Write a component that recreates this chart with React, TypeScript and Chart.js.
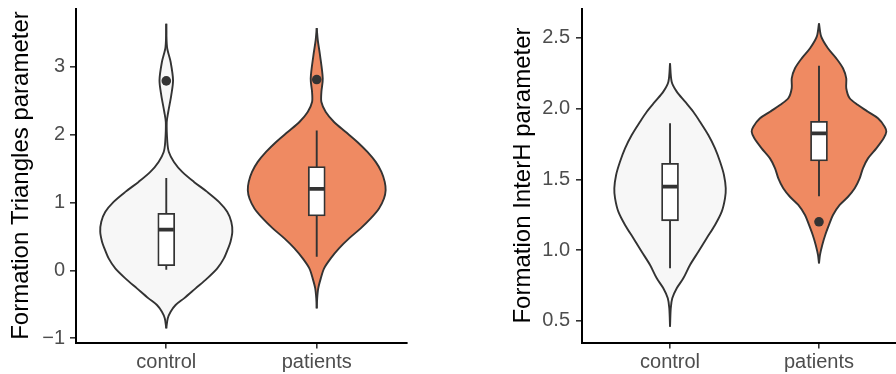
import React, { useEffect, useRef } from 'react';
import { Chart, registerables } from 'chart.js';

Chart.register(...registerables);

const FONT = "'Liberation Sans', Arial, Helvetica, sans-serif";

const categories = ['control', 'patients'];
const categoryPositions = [1, 2];
const fillColors = ['#F7F7F7', '#EF8A62'];

// ---------- Panel 1: Formation Triangles parameter ----------
const triTitle = 'Formation Triangles parameter';
const triYTicks = [-1, 0, 1, 2, 3];
const triYTickLabels = ['\u22121', '0', '1', '2', '3'];
const triYRange = [-1.062, 3.856];
const triXRange = [0.4, 2.6];

const triControlLevels = [-0.853, -0.706, -0.609, -0.51, -0.412, -0.265, -0.118, 0.029, 0.176, 0.328, 0.421, 0.568, 0.715, 0.862, 1.009, 1.156, 1.303, 1.45, 1.597, 1.744, 1.891, 2.181, 2.332, 2.578, 2.799, 3.068, 3.288, 3.632];
const triControlHalfWidths = [0, 0.01, 0.029, 0.062, 0.118, 0.195, 0.272, 0.339, 0.383, 0.412, 0.427, 0.439, 0.432, 0.405, 0.35, 0.272, 0.184, 0.106, 0.051, 0.017, 0.007, 0.003, 0.013, 0.033, 0.045, 0.029, 0.005, 0];

const triPatientsLevels = [-0.559, -0.412, -0.265, -0.118, 0.029, 0.176, 0.324, 0.471, 0.618, 0.765, 0.912, 1.059, 1.181, 1.303, 1.45, 1.597, 1.744, 1.891, 2.038, 2.185, 2.332, 2.479, 2.626, 2.824, 3.166, 3.39, 3.568];
const triPatientsHalfWidths = [0, 0.003, 0.01, 0.027, 0.049, 0.093, 0.148, 0.215, 0.292, 0.359, 0.414, 0.447, 0.458, 0.452, 0.43, 0.392, 0.337, 0.27, 0.193, 0.115, 0.06, 0.031, 0.031, 0.04, 0.022, 0.007, 0];

const triWhiskerLow = [0.01, 0.2];
const triQ1 = [0.07, 0.8];
const triMedian = [0.6, 1.2];
const triQ3 = [0.84, 1.53];
const triWhiskerHigh = [1.36, 2.06];
const triOutliers = [[2.79], [2.81]];

// ---------- Panel 2: Formation InterH parameter ----------
const interTitle = 'Formation InterH parameter';
const interYTicks = [0.5, 1.0, 1.5, 2.0, 2.5];
const interYTickLabels = ['0.5', '1.0', '1.5', '2.0', '2.5'];
const interYRange = [0.348, 2.706];
const interXRange = [0.409, 2.517];

const interControlLevels = [0.46, 0.59, 0.66, 0.731, 0.801, 0.895, 0.989, 1.084, 1.178, 1.272, 1.366, 1.437, 1.531, 1.624, 1.719, 1.813, 1.907, 1.977, 2.048, 2.119, 2.189, 2.319];
const interControlHalfWidths = [0, 0.005, 0.015, 0.045, 0.089, 0.134, 0.19, 0.246, 0.302, 0.347, 0.369, 0.374, 0.362, 0.336, 0.302, 0.257, 0.201, 0.156, 0.101, 0.045, 0.011, 0];

const interPatientsLevels = [0.907, 0.968, 1.037, 1.107, 1.178, 1.248, 1.319, 1.377, 1.437, 1.507, 1.578, 1.648, 1.719, 1.79, 1.836, 1.872, 1.931, 1.977, 2.025, 2.072, 2.143, 2.213, 2.284, 2.354, 2.425, 2.507, 2.601];
const interPatientsHalfWidths = [0, 0.007, 0.022, 0.042, 0.067, 0.094, 0.139, 0.195, 0.24, 0.273, 0.295, 0.329, 0.385, 0.434, 0.452, 0.441, 0.396, 0.329, 0.262, 0.206, 0.183, 0.183, 0.161, 0.116, 0.06, 0.015, 0];

const interWhiskerLow = [0.872, 1.38];
const interQ1 = [1.207, 1.63];
const interMedian = [1.448, 1.825];
const interQ3 = [1.613, 1.91];
const interWhiskerHigh = [1.895, 2.302];
const interOutliers = [[], [1.2]];

const OUTLINE = '#333333';
const MEDIAN_HALF = 0.05;

type Panel = {
  title: string;
  yTicks: number[];
  yTickLabels: string[];
  yRange: number[];
  xRange: number[];
  levels: number[][];
  halfWidths: number[][];
  low: number[];
  q1: number[];
  median: number[];
  q3: number[];
  high: number[];
  outliers: number[][];
  axisWidth: number;
  padRight: number;
  tickPad: number;
};

const panels: Panel[] = [
  {
    title: triTitle, yTicks: triYTicks, yTickLabels: triYTickLabels, yRange: triYRange, xRange: triXRange,
    levels: [triControlLevels, triPatientsLevels], halfWidths: [triControlHalfWidths, triPatientsHalfWidths],
    low: triWhiskerLow, q1: triQ1, median: triMedian, q3: triQ3, high: triWhiskerHigh, outliers: triOutliers,
    axisWidth: 76, padRight: 43, tickPad: 5,
  },
  {
    title: interTitle, yTicks: interYTicks, yTickLabels: interYTickLabels, yRange: interYRange, xRange: interXRange,
    levels: [interControlLevels, interPatientsLevels], halfWidths: [interControlHalfWidths, interPatientsHalfWidths],
    low: interWhiskerLow, q1: interQ1, median: interMedian, q3: interQ3, high: interWhiskerHigh, outliers: interOutliers,
    axisWidth: 80, padRight: 0, tickPad: 6,
  },
];

function buildDatasets(p: Panel) {
  const ds: any[] = [];
  categoryPositions.forEach((pos, c) => {
    const common = {
      type: 'line', indexAxis: 'y', borderColor: OUTLINE, borderWidth: 1.9,
      pointRadius: 0, pointHoverRadius: 0, tension: 0.3, order: 5,
    };
    ds.push({ ...common, data: p.levels[c].map((y, i) => ({ x: pos + p.halfWidths[c][i], y })), fill: false });
    ds.push({ ...common, data: p.levels[c].map((y, i) => ({ x: pos - p.halfWidths[c][i], y })), fill: '-1', backgroundColor: fillColors[c] });
  });
  categoryPositions.forEach((pos, c) => {
    ds.push({
      type: 'line', data: [{ x: pos, y: p.low[c] }, { x: pos, y: p.high[c] }],
      borderColor: OUTLINE, borderWidth: 1.9, pointRadius: 0, fill: false, order: 4,
    });
  });
  ds.push({
    type: 'bar',
    data: categoryPositions.map((pos, c) => ({ x: pos, y: [p.q1[c], p.q3[c]] })),
    backgroundColor: '#FFFFFF', borderColor: OUTLINE, borderWidth: 1.8, borderSkipped: false,
    barThickness: 17, order: 3,
  });
  categoryPositions.forEach((pos, c) => {
    ds.push({
      type: 'line', data: [{ x: pos - MEDIAN_HALF, y: p.median[c] }, { x: pos + MEDIAN_HALF, y: p.median[c] }],
      borderColor: OUTLINE, borderWidth: 3.8, pointRadius: 0, fill: false, order: 2,
    });
  });
  ds.push({
    type: 'scatter',
    data: categoryPositions.flatMap((pos, c) => p.outliers[c].map((y) => ({ x: pos, y }))),
    backgroundColor: OUTLINE, borderWidth: 0, pointRadius: 4.8, order: 1,
  });
  return ds;
}

function makeConfig(p: Panel): any {
  return {
    type: 'line',
    data: { datasets: buildDatasets(p) },
    options: {
      responsive: false,
      animation: false,
      events: [],
      layout: { autoPadding: false, padding: { top: 8.5, right: p.padRight, bottom: 0, left: 0 } },
      plugins: { legend: { display: false }, tooltip: { enabled: false } },
      scales: {
        x: {
          type: 'linear', min: p.xRange[0], max: p.xRange[1], offset: false,
          afterBuildTicks: (s: any) => { s.ticks = categoryPositions.map((v) => ({ value: v })); },
          afterFit: (s: any) => { s.height = 31.5; s.paddingLeft = 0; s.paddingRight = 0; },
          ticks: {
            autoSkip: false, maxRotation: 0, padding: 1.5, color: '#4D4D4D',
            font: { family: FONT, size: 20 },
            callback: (v: number) => categories[categoryPositions.indexOf(v)],
          },
          grid: { display: true, offset: false, drawOnChartArea: false, drawTicks: true, tickLength: 6, color: OUTLINE, lineWidth: 1.6 },
          border: { display: true, color: '#000000', width: 2 },
        },
        y: {
          type: 'linear', min: p.yRange[0], max: p.yRange[1], offset: false,
          afterBuildTicks: (s: any) => { s.ticks = p.yTicks.map((v) => ({ value: v })); },
          afterFit: (s: any) => { s.width = p.axisWidth; s.paddingTop = 0; s.paddingBottom = 0; },
          ticks: {
            autoSkip: false, padding: p.tickPad, color: '#4D4D4D',
            font: { family: FONT, size: 20 },
            callback: (v: number, i: number) => p.yTickLabels[i],
          },
          grid: { display: true, offset: false, drawOnChartArea: false, drawTicks: true, tickLength: 6, color: OUTLINE, lineWidth: 1.6 },
          border: { display: true, color: '#000000', width: 2 },
          title: {
            display: true, text: p.title, color: '#000000',
            font: { family: FONT, size: 24 }, padding: { top: 7.3, bottom: 0 },
          },
        },
      },
    },
  };
}

function PanelChart({ panel, left, width }: { panel: Panel; left: number; width: number }) {
  const ref = useRef<HTMLCanvasElement | null>(null);
  useEffect(() => {
    if (!ref.current) return;
    const chart = new Chart(ref.current, makeConfig(panel));
    return () => chart.destroy();
  }, [panel]);
  return (
    <canvas
      ref={ref}
      width={width}
      height={374}
      style={{ position: 'absolute', left, top: 0, width, height: 374 }}
    />
  );
}

export default function App() {
  return (
    <div style={{ position: 'absolute', left: 0, top: 0, width: 896, height: 374, background: '#FFFFFF', overflow: 'hidden' }}>
      <PanelChart panel={panels[0]} left={0} width={450} />
      <PanelChart panel={panels[1]} left={502} width={394} />
    </div>
  );
}
